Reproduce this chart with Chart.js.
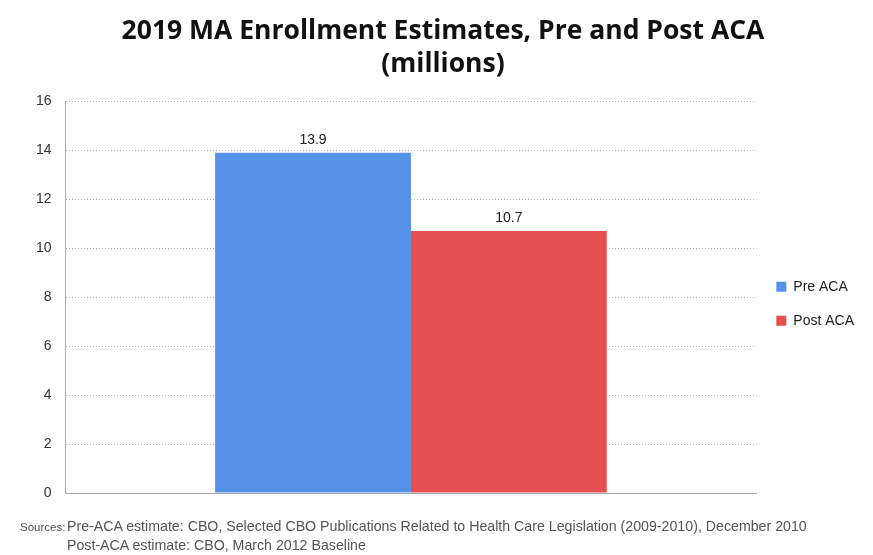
<!DOCTYPE html>
<html>
<head>
<meta charset="utf-8">
<script src="https://cdn.jsdelivr.net/npm/chart.js@4"></script>
<style>
  html, body { margin: 0; padding: 0; background: #fff; }
  #wrap { position: relative; width: 873px; height: 555px; }
  #note {
    position: absolute; left: 20px; top: 518px;
    font-family: "Liberation Sans", sans-serif;
    font-size: 14.2px; line-height: 17.5px; color: #555;
    white-space: nowrap;
  }
  #note .lbl { display: inline-block; width: 47px; font-size: 11.5px; }
  #note .indent { padding-left: 47px; }
</style>
</head>
<body>
<div id="wrap">
  <canvas id="chart" width="873" height="555"></canvas>
  <div id="note">
    <div><span class="lbl">Sources:</span>Pre-ACA estimate: CBO, Selected CBO Publications Related to Health Care Legislation (2009-2010), December 2010</div>
    <div class="indent">Post-ACA estimate: CBO, March 2012 Baseline</div>
  </div>
</div>
<script>
// values
const categories = [''];
const seriesNames = ['Pre ACA', 'Post ACA'];
const preAca = [13.9];
const postAca = [10.7];
const yTicks = [0, 2, 4, 6, 8, 10, 12, 14, 16];

const colors = ['#5591e6', '#e44f4f'];

// draws the value above each bar
const valueLabels = {
    id: 'valueLabels',
    afterDatasetsDraw(chart) {
        const ctx = chart.ctx;
        ctx.save();
        ctx.font = '14px "Liberation Sans", sans-serif';
        ctx.fillStyle = '#222';
        ctx.textAlign = 'center';
        ctx.textBaseline = 'bottom';
        chart.data.datasets.forEach((ds, i) => {
            chart.getDatasetMeta(i).data.forEach((bar, j) => {
                ctx.fillText(ds.data[j].toFixed(1), bar.x, bar.y - 6);
            });
        });
        ctx.restore();
    }
};

new Chart(document.getElementById('chart').getContext('2d'), {
    type: 'bar',
    data: {
        labels: categories,
        datasets: [
            { label: seriesNames[0], data: preAca, backgroundColor: colors[0] },
            { label: seriesNames[1], data: postAca, backgroundColor: colors[1] }
        ]
    },
    options: {
        responsive: false,
        animation: false,
        layout: { padding: { left: 22, right: 9, top: 0, bottom: 54 } },
        datasets: { bar: { categoryPercentage: 0.567, barPercentage: 1.0 } },
        scales: {
            x: {
                grid: { display: false },
                ticks: { display: false },
                border: { color: '#aaa', dash: [1, 2] }
            },
            y: {
                min: 0,
                max: 16,
                afterBuildTicks: axis => { axis.ticks = yTicks.map(v => ({ value: v })); },
                ticks: { color: '#333', font: { size: 14, family: '"Liberation Sans", sans-serif' }, padding: 14 },
                grid: { color: '#b4b4b4', drawTicks: false },
                border: { color: '#aaa', dash: [1, 2] }
            }
        },
        plugins: {
            title: {
                display: true,
                text: ['2019 MA Enrollment Estimates, Pre and Post ACA', '(millions)'],
                color: '#111',
                font: { size: 26.5, weight: 'bold', family: '"Open Sans", sans-serif', lineHeight: 1.25 },
                padding: { top: 15, bottom: 20 }
            },
            legend: {
                position: 'right',
                // empty title only pushes the items down to mid-height
                title: { display: true, text: '', padding: 46 },
                labels: {
                    boxWidth: 10, boxHeight: 10, padding: 20,
                    color: '#222',
                    font: { size: 14, family: '"Liberation Sans", sans-serif' }
                }
            },
            tooltip: { enabled: false }
        }
    },
    plugins: [valueLabels]
});
</script>
</body>
</html>
